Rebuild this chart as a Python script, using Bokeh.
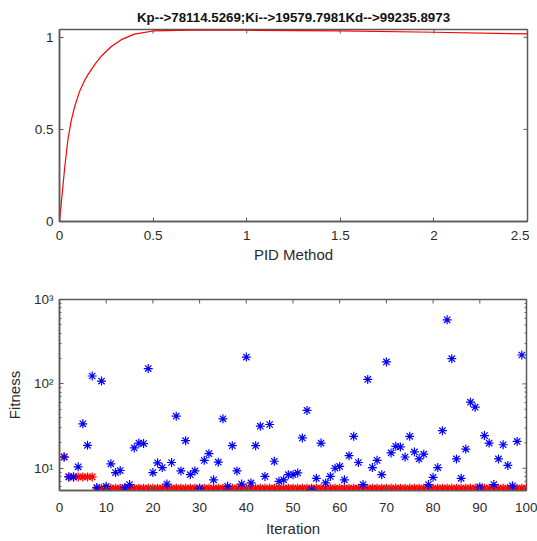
import math
from bokeh.plotting import figure
from bokeh.layouts import column
from bokeh.models import Range1d, FixedTicker
from bokeh.embed import file_html
from bokeh.resources import INLINE

# ---- data: step response (top) ----
t_vals = [0, 0.0125, 0.027, 0.045, 0.062, 0.08, 0.107, 0.134, 0.152, 0.187,
          0.223, 0.277, 0.33, 0.40, 0.5, 0.7, 1.0, 1.5, 2.0, 2.5]
resp_vals = [0, 0.13, 0.285, 0.445, 0.545, 0.62, 0.705, 0.765, 0.797, 0.85,
             0.897, 0.95, 0.987, 1.017, 1.034, 1.039, 1.038, 1.034, 1.027, 1.018]
title_text = "Kp-->78114.5269;Ki-->19579.7981Kd-->99235.8973"

# ---- data: fitness per iteration (bottom) ----
iter_blue = list(range(1, 100))
fit_blue = [13.6, 7.9, 7.9, 10.4, 33.6, 18.7, 124, 5.9, 108, 6.1,
            11.3, 8.9, 9.4, 5.9, 6.4, 17.4, 19.9, 19.6, 152, 8.9,
            11.6, 10.2, 6.5, 11.7, 41.4, 9.3, 21.2, 8.4, 9.3, 5.8,
            12.4, 14.9, 7.3, 11.8, 38.5, 6.1, 18.5, 9.3, 6.5, 208,
            6.7, 18.5, 31.5, 8.0, 33.0, 12.1, 7.0, 7.3, 8.4, 8.4,
            8.8, 22.9, 48.4, 5.6, 7.6, 19.9, 6.7, 8.0, 10.0, 10.5,
            7.3, 14.1, 23.9, 11.7, 6.4, 113, 10.2, 12.4, 8.4, 182,
            15.2, 18.2, 17.9, 13.6, 23.9, 15.6, 12.9, 14.7, 6.4, 7.8,
            10.2, 27.9, 575, 199, 12.9, 7.6, 16.9, 60.7, 53.0, 6.0,
            24.4, 19.9, 6.4, 12.9, 19.0, 10.8, 6.2, 20.8, 220]
iter_red = list(range(1, 101))
fit_red = [13.6, 7.9, 7.9, 7.9, 7.9, 7.9, 7.9, 5.8, 5.8, 5.8,
           5.8, 5.8, 5.8, 5.8, 5.8, 5.8, 5.8, 5.8, 5.8, 5.8,
           5.8, 5.8, 5.8, 5.8, 5.8, 5.8, 5.8, 5.8, 5.8, 5.8,
           5.8, 5.8, 5.8, 5.8, 5.8, 5.8, 5.8, 5.8, 5.8, 5.8,
           5.8, 5.8, 5.8, 5.8, 5.8, 5.8, 5.8, 5.8, 5.8, 5.8,
           5.8, 5.8, 5.8, 5.8, 5.8, 5.8, 5.8, 5.8, 5.8, 5.8,
           5.8, 5.8, 5.8, 5.8, 5.8, 5.8, 5.8, 5.8, 5.8, 5.8,
           5.8, 5.8, 5.8, 5.8, 5.8, 5.8, 5.8, 5.8, 5.8, 5.8,
           5.8, 5.8, 5.8, 5.8, 5.8, 5.8, 5.8, 5.8, 5.8, 5.8,
           5.8, 5.8, 5.8, 5.8, 5.8, 5.8, 5.8, 5.8, 5.8, 5.8]

top_xrange = (0, 2.5)
top_yrange = (0, 1.042)
top_xticks = [0, 0.5, 1, 1.5, 2, 2.5]
top_xlabels = ["0", "0.5", "1", "1.5", "2", "2.5"]
top_yticks = [0, 0.5, 1]
top_ylabels = ["0", "0.5", "1"]
bot_xrange = (0, 100)
bot_yrange = (5.45, 1000)
bot_xticks = [0, 10, 20, 30, 40, 50, 60, 70, 80, 90, 100]
bot_yticks = [10, 100, 1000]
bot_ylabels = ["10\u00b9", "10\u00b2", "10\u00b3"]
bot_yminor = [6, 7, 8, 9, 20, 30, 40, 50, 60, 70, 80, 90,
              200, 300, 400, 500, 600, 700, 800, 900]

FONT = "Liberation Sans, Arial, sans-serif"
AX = "#5a5a5a"
TXT = "#2b2b2b"


def style_axis(ax, standoff=8):
    ax.axis_line_color = AX
    ax.axis_line_width = 1.5
    ax.major_tick_line_color = AX
    ax.major_tick_line_width = 1
    ax.major_tick_in = 4
    ax.major_tick_out = 0
    ax.minor_tick_line_color = AX
    ax.minor_tick_in = 2
    ax.minor_tick_out = 0
    ax.major_label_text_font = FONT
    ax.major_label_text_color = TXT
    ax.major_label_text_font_size = "13.5px"
    ax.major_label_standoff = standoff
    ax.axis_label_text_font = FONT
    ax.axis_label_text_color = TXT
    ax.axis_label_text_font_style = "normal"
    ax.axis_label_text_font_size = "15px"


def mirror_ticks(p, xticks, yticks, xr, yr, ysize=8, yminor=None):
    # tick marks on the top and right edges of the box (MATLAB style)
    inner_x = [v for v in xticks if xr[0] < v < xr[1]]
    p.scatter(inner_x, [yr[1]] * len(inner_x), marker="dash", size=8,
              angle=math.pi / 2, line_color=AX, line_width=1)
    inner_y = [v for v in yticks if yr[0] < v < yr[1]]
    p.scatter([xr[1]] * len(inner_y), inner_y, marker="dash", size=ysize,
              line_color=AX, line_width=1)
    if yminor:
        p.scatter([xr[1]] * len(yminor), yminor, marker="dash", size=4,
                  line_color=AX, line_width=1)


# ---------- top figure ----------
p1 = figure(frame_width=468, frame_height=192,
            x_range=Range1d(*top_xrange), y_range=Range1d(*top_yrange),
            min_border_left=49, min_border_right=10, min_border_top=21,
            min_border_bottom=50, output_backend="svg", toolbar_location=None,
            title=title_text)
p1.title.text_font = FONT
p1.title.text_font_size = "13.3px"
p1.title.text_font_style = "bold"
p1.title.text_color = "#111111"
p1.title.align = "center"
p1.title.offset = -8
p1.grid.visible = False
p1.outline_line_color = AX
p1.outline_line_width = 1.5

p1.line(t_vals, resp_vals, line_color="red", line_width=1.2)

p1.xaxis.ticker = FixedTicker(ticks=top_xticks)
p1.xaxis.major_label_overrides = dict(zip(top_xticks, top_xlabels))
p1.yaxis.ticker = FixedTicker(ticks=top_yticks)
p1.yaxis.major_label_overrides = dict(zip(top_yticks, top_ylabels))
p1.xaxis.axis_label = "PID Method"
p1.xaxis.axis_label_standoff = 3
style_axis(p1.xaxis[0], standoff=9)
style_axis(p1.yaxis[0], standoff=6)
p1.xaxis.minor_tick_line_color = None
p1.yaxis.minor_tick_line_color = None
mirror_ticks(p1, top_xticks, top_yticks, top_xrange, top_yrange)

# ---------- bottom figure ----------
p2 = figure(frame_width=467, frame_height=191,
            x_range=Range1d(*bot_xrange), y_range=Range1d(*bot_yrange),
            y_axis_type="log",
            min_border_left=49, min_border_right=11, min_border_top=28,
            min_border_bottom=40, output_backend="svg", toolbar_location=None)
p2.grid.visible = False
p2.outline_line_color = AX
p2.outline_line_width = 1.5

p2.scatter(iter_red, fit_red, marker="asterisk", size=9,
           line_color="red", line_width=1.3)
p2.scatter(iter_blue, fit_blue, marker="asterisk", size=9,
           line_color="blue", line_width=1.2)

p2.xaxis.ticker = FixedTicker(ticks=bot_xticks)
p2.yaxis.ticker = FixedTicker(ticks=bot_yticks, minor_ticks=bot_yminor)
p2.yaxis.major_label_overrides = dict(zip(bot_yticks, bot_ylabels))
p2.xaxis.axis_label = "Iteration"
p2.yaxis.axis_label = "Fitness"
p2.xaxis.axis_label_standoff = 5
p2.yaxis.axis_label_standoff = 8
style_axis(p2.xaxis[0], standoff=12)
style_axis(p2.yaxis[0], standoff=6)
p2.xaxis.minor_tick_line_color = None
mirror_ticks(p2, bot_xticks, bot_yticks, bot_xrange, bot_yrange,
             yminor=bot_yminor)

layout = column(p1, p2, spacing=0, margin=(2, 0, 0, 2))
open("out.html", "w").write(file_html(layout, INLINE))
